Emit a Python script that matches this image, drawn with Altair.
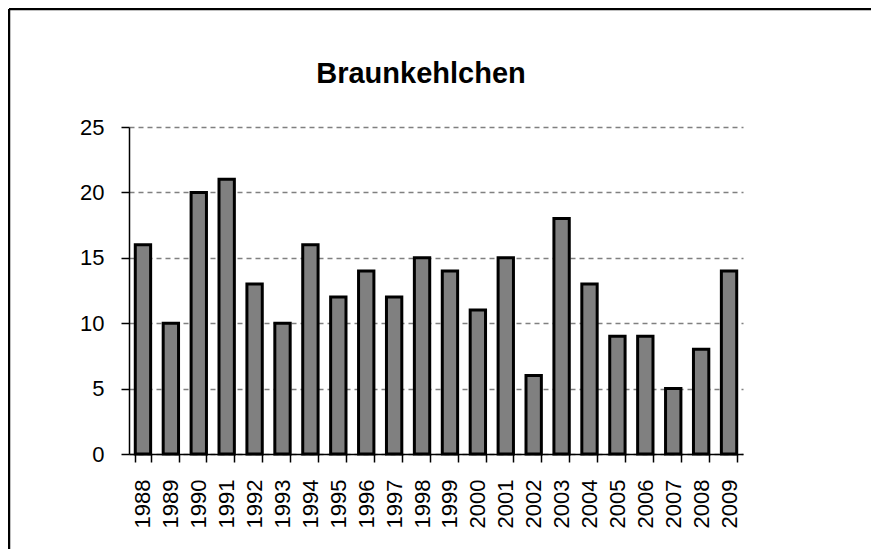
import altair as alt
import pandas as pd

years = ["1988", "1989", "1990", "1991", "1992", "1993", "1994", "1995", "1996", "1997", "1998",
         "1999", "2000", "2001", "2002", "2003", "2004", "2005", "2006", "2007", "2008", "2009"]
counts = [16, 10, 20, 21, 13, 10, 16, 12, 14, 12, 15, 14, 11, 15, 6, 18, 13, 9, 9, 5, 8, 14]
y_ticks = [0, 5, 10, 15, 20, 25]
title_text = "Braunkehlchen"

df = pd.DataFrame({"Jahr": years, "Anzahl": counts})

FONT = "Liberation Sans"

bars = alt.Chart(df).mark_bar(
    fill="#808080", stroke="black", strokeWidth=3
).encode(
    x=alt.X("Jahr:O", sort=years, title=None,
            scale=alt.Scale(paddingInner=0.45, paddingOuter=0.225),
            axis=alt.Axis(labelAngle=-90, labelFont=FONT, labelFontSize=22, labelColor="black",
                          labelPadding=17, tickBand="extent", tickSize=8, tickColor="black",
                          tickWidth=1.5, domainColor="black", domainWidth=1.5, grid=False)),
    y=alt.Y("Anzahl:Q", title=None,
            scale=alt.Scale(domain=[0, 25], nice=False),
            axis=alt.Axis(values=y_ticks, labelFont=FONT, labelFontSize=22, labelColor="black",
                          labelPadding=17, tickSize=8, tickColor="black", tickWidth=1.5,
                          domainColor="black", domainWidth=1.5,
                          grid=True, gridColor="#808080", gridDash=[5, 4], gridWidth=1.5))
)

top_edge = alt.Chart(alt.Data(values=[{}])).mark_rule(color="black", strokeWidth=2.5).encode(
    x=alt.value(-120), x2=alt.value(742), y=alt.value(-118)
)
left_edge = alt.Chart(alt.Data(values=[{}])).mark_rule(color="black", strokeWidth=2.5).encode(
    x=alt.value(-120), y=alt.value(-118), y2=alt.value(422)
)

title = alt.Chart(alt.Data(values=[{}])).mark_text(
    font=FONT, fontSize=29, fontWeight="bold", color="black", align="center", baseline="alphabetic"
).encode(
    x=alt.value(292), y=alt.value(-44), text=alt.value(title_text)
)

chart = alt.layer(top_edge, left_edge, bars, title).properties(
    width=614, height=327,
    autosize=alt.AutoSizeParams(type="none"),
    padding={"left": 121, "top": 119, "right": 128, "bottom": 95},
).configure(background="white").configure_view(stroke=None)

chart.save("out.html", embed_options={"renderer": "svg", "actions": False})
